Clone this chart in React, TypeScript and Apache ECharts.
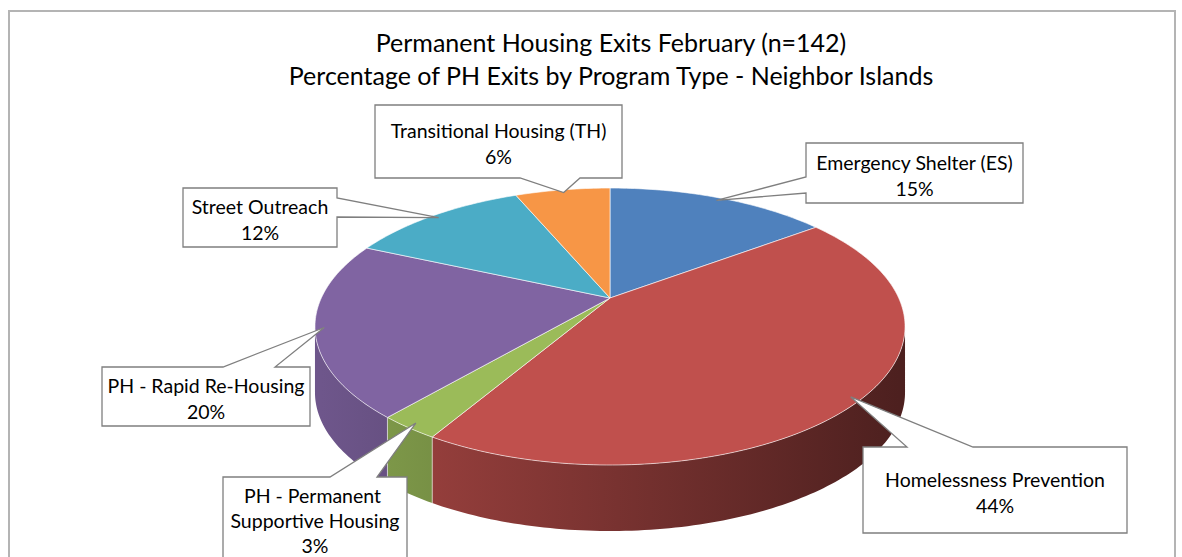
import React, { useEffect, useRef } from "react";
import * as echarts from "echarts";

// ---------- data ----------
const titleLines = [
  "Permanent Housing Exits February (n=142)",
  "Percentage of PH Exits by Program Type - Neighbor Islands",
];
const categories = [
  "Emergency Shelter (ES)",
  "Homelessness Prevention",
  "PH - Permanent Supportive Housing",
  "PH - Rapid Re-Housing",
  "Street Outreach",
  "Transitional Housing (TH)",
];
const exitCounts = [21, 62, 4, 29, 17, 9];
const sliceColors = ["#4F81BD", "#C0504D", "#9BBB59", "#8064A2", "#4BACC6", "#F79646"];

// ---------- layout / style ----------
const FONT_FAMILY = "Lato, 'Open Sans', sans-serif";
const TITLE_SIZE = 25;
const LABEL_SIZE = 19.5;
const PIE = { cx: 610, cy: 298, rx: 288.7, ry: 132.6, k: 0.206, depth: 66 };
const CALLOUTS = [
  { x: 806, y: 143, w: 217, h: 60, edge: "left", p1: 177, p2: 193, lh: 26 },
  { x: 863, y: 447, w: 264, h: 86, edge: "top", p1: 907, p2: 973, lh: 26 },
  { x: 223, y: 477, w: 184, h: 86, edge: "top", p1: 330, p2: 377, lh: 25 },
  { x: 102, y: 367, w: 208, h: 59, edge: "top", p1: 223, p2: 275, lh: 26 },
  { x: 183, y: 188, w: 154, h: 59, edge: "right", p1: 198, p2: 217, lh: 26 },
  { x: 375, y: 105, w: 247, h: 73, edge: "bottom", p1: 520, p2: 580, lh: 26 },
];

const TAU = Math.PI * 2;
const total = exitCounts.reduce((a, b) => a + b, 0);
const cumStart: number[] = [];
exitCounts.reduce((acc, v, i) => {
  cumStart[i] = acc;
  return acc + v;
}, 0);
const seriesData = exitCounts.map((v, i) => [v, cumStart[i]]);

function proj(theta: number, r: number, dy: number): number[] {
  const u = r * Math.sin(theta);
  const v = r * Math.cos(theta);
  const d = 1 + PIE.k * v;
  return [PIE.cx + (PIE.rx * u) / d, PIE.cy - (PIE.ry * v) / d + dy];
}

function arc(s: number, e: number, dy: number): number[][] {
  const n = Math.max(2, Math.ceil((e - s) / (Math.PI / 180)));
  const pts: number[][] = [];
  for (let i = 0; i <= n; i++) pts.push(proj(s + ((e - s) * i) / n, 1, dy));
  return pts;
}

function shade(hex: string, f: number): string {
  const n = parseInt(hex.slice(1), 16);
  const r = Math.round(((n >> 16) & 255) * f);
  const g = Math.round(((n >> 8) & 255) * f);
  const b = Math.round((n & 255) * f);
  return `rgb(${r},${g},${b})`;
}

function sliceAngles(api: any): number[] {
  const v = api.value(0) as number;
  const c = api.value(1) as number;
  return [(c / total) * TAU, ((c + v) / total) * TAU];
}

const VIS_START = Math.acos(-PIE.k);
const VIS_END = TAU - VIS_START;

export default function App() {
  const ref = useRef<HTMLDivElement>(null);
  useEffect(() => {
    if (!ref.current) return;
    const chart = echarts.init(ref.current, null, { renderer: "svg" });

    const renderWall = (params: any, api: any) => {
      const [s, e] = sliceAngles(api);
      const a = Math.max(s, VIS_START);
      const b = Math.min(e, VIS_END);
      if (b <= a) return { type: "group", children: [] };
      const color = sliceColors[params.dataIndex];
      const top = arc(a, b, 0);
      const bottom = arc(a, b, PIE.depth).reverse();
      const children: any[] = [
        {
          type: "polygon",
          shape: { points: top.concat(bottom) },
          style: {
            fill: new echarts.graphic.LinearGradient(
              PIE.cx - PIE.rx,
              0,
              PIE.cx + PIE.rx,
              0,
              [
                { offset: 0, color: shade(color, 0.86) },
                { offset: 1, color: shade(color, 0.4) },
              ],
              true
            ),
            stroke: null,
          },
        },
      ];
      if (s > VIS_START && s < VIS_END) {
        const p = proj(s, 1, 0);
        const q = proj(s, 1, PIE.depth);
        children.push({
          type: "line",
          shape: { x1: p[0], y1: p[1], x2: q[0], y2: q[1] },
          style: { stroke: "rgba(255,255,255,0.55)", lineWidth: 1 },
        });
      }
      return { type: "group", children };
    };

    const renderTop = (params: any, api: any) => {
      const [s, e] = sliceAngles(api);
      const pts = [[PIE.cx, PIE.cy]].concat(arc(s, e, 0));
      return {
        type: "polygon",
        shape: { points: pts },
        style: {
          fill: sliceColors[params.dataIndex],
          stroke: "rgba(255,255,255,0.6)",
          lineWidth: 1,
          lineJoin: "round",
        },
      };
    };

    const renderCallout = (params: any, api: any) => {
      const [s, e] = sliceAngles(api);
      const tip = proj((s + e) / 2, 0.97, 0);
      const L = CALLOUTS[params.dataIndex];
      const { x, y, w, h, p1, p2 } = L;
      let pts: number[][];
      if (L.edge === "top") {
        pts = [[x, y], [p1, y], tip, [p2, y], [x + w, y], [x + w, y + h], [x, y + h]];
      } else if (L.edge === "bottom") {
        pts = [[x, y], [x + w, y], [x + w, y + h], [p2, y + h], tip, [p1, y + h], [x, y + h]];
      } else if (L.edge === "left") {
        pts = [[x, y], [x + w, y], [x + w, y + h], [x, y + h], [x, p2], tip, [x, p1]];
      } else {
        pts = [[x, y], [x + w, y], [x + w, p1], tip, [x + w, p2], [x + w, y + h], [x, y + h]];
      }
      const pct = Math.round(((api.value(0) as number) / total) * 100);
      return {
        type: "group",
        children: [
          {
            type: "polygon",
            shape: { points: pts },
            style: { fill: "#ffffff", stroke: "#7f7f7f", lineWidth: 1.3 },
          },
          {
            type: "text",
            style: {
              text: `${categories[params.dataIndex]}\n${pct}%`,
              x: x + w / 2,
              y: y + h / 2 + (params.dataIndex === 2 ? 0 : 2),
              width: w - 8,
              overflow: "break",
              textAlign: "center",
              textVerticalAlign: "middle",
              align: "center",
              verticalAlign: "middle",
              fontSize: LABEL_SIZE,
              fontFamily: FONT_FAMILY,
              lineHeight: L.lh,
              fill: "#000000",
            },
          },
        ],
      };
    };

    chart.setOption({
      animation: false,
      backgroundColor: "#ffffff",
      graphic: [
        {
          type: "rect",
          shape: { x: 9, y: 11, width: 1166, height: 600 },
          style: { fill: "none", stroke: "#b4b4b4", lineWidth: 2 },
          silent: true,
          z: 0,
        },
        ...titleLines.map((t, i) => ({
          type: "text",
          x: 611,
          y: 42 + i * 33,
          style: {
            text: t,
            textAlign: "center",
            textVerticalAlign: "middle",
            align: "center",
            verticalAlign: "middle",
            fontSize: TITLE_SIZE,
            fontFamily: FONT_FAMILY,
            fill: "#000000",
          },
          silent: true,
          z: 10,
        })),
      ],
      series: [
        {
          type: "custom",
          coordinateSystem: "none",
          renderItem: renderWall,
          data: seriesData,
          silent: true,
          z: 1,
        },
        {
          type: "custom",
          coordinateSystem: "none",
          renderItem: renderTop,
          data: seriesData,
          silent: true,
          z: 2,
        },
        {
          type: "custom",
          coordinateSystem: "none",
          renderItem: renderCallout,
          data: seriesData,
          silent: true,
          z: 3,
        },
      ],
    });
    return () => chart.dispose();
  }, []);
  return (
    <div
      ref={ref}
      style={{ position: "absolute", left: 0, top: 0, width: 1182, height: 557, background: "#fff" }}
    />
  );
}
